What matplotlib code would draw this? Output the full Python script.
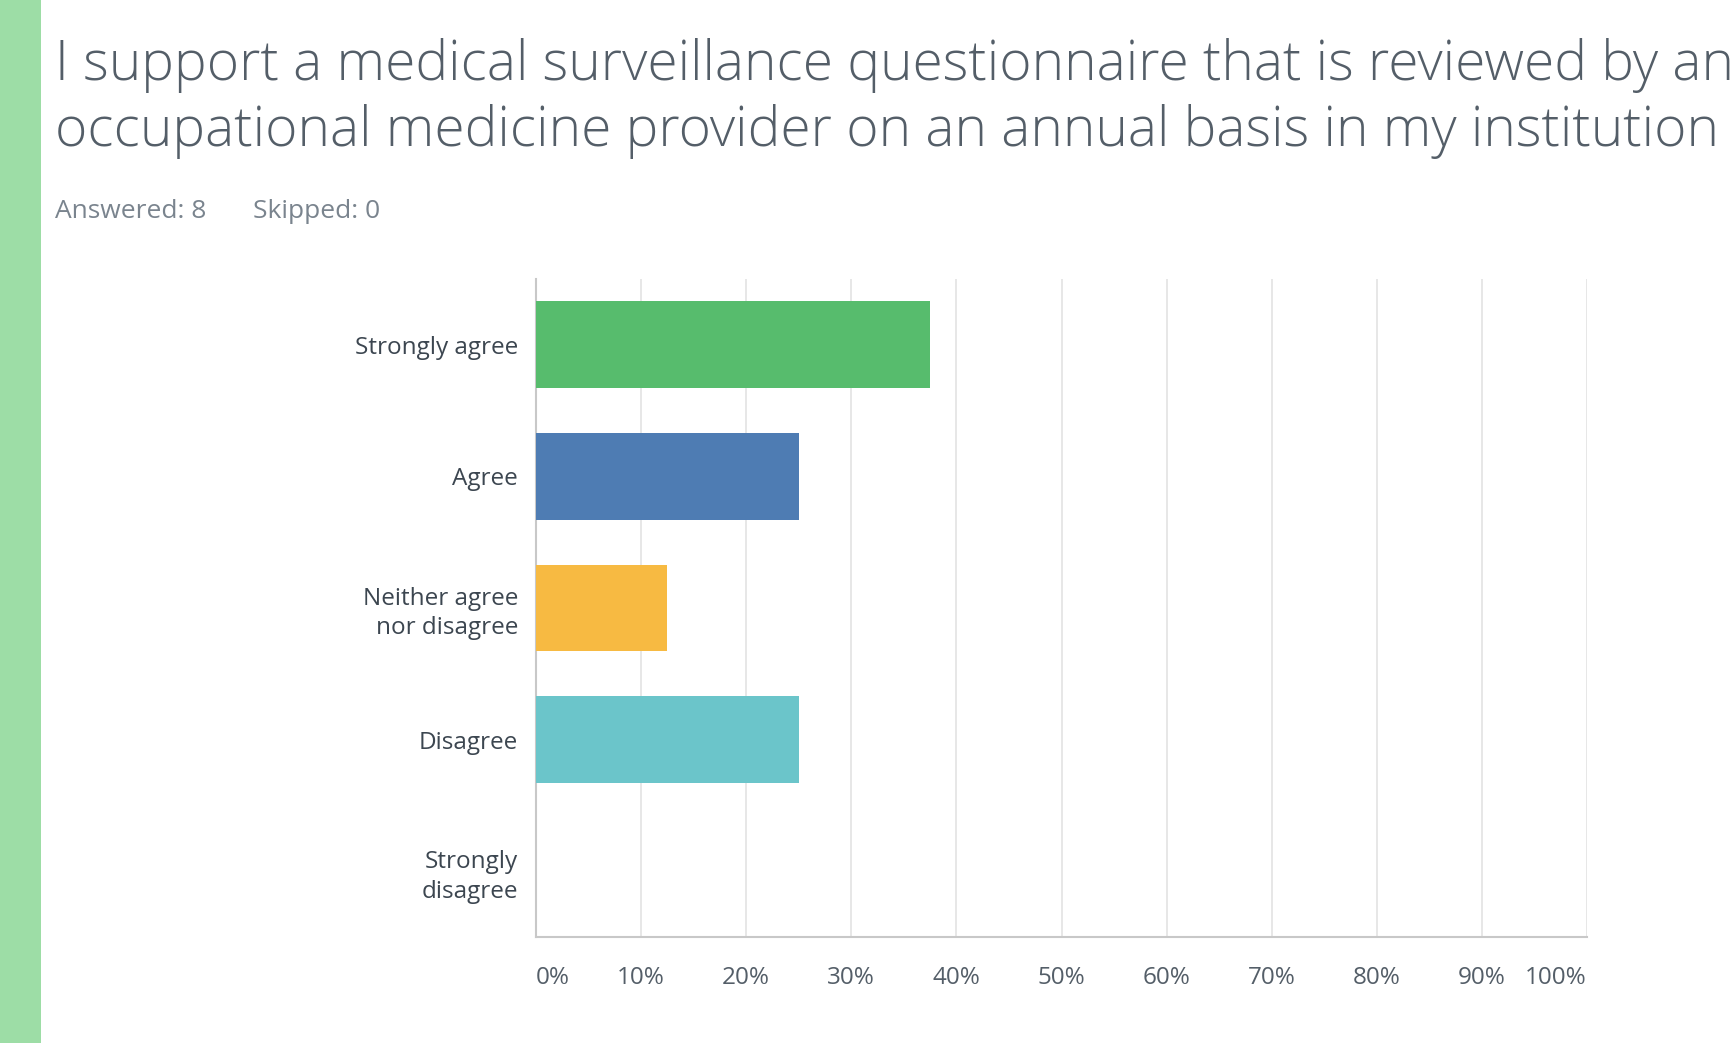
import matplotlib
matplotlib.use("Agg")
import matplotlib.pyplot as plt
from matplotlib.patches import Rectangle

categories = ["Strongly agree", "Agree", "Neither agree\nnor disagree", "Disagree", "Strongly\ndisagree"]
values = [37.5, 25.0, 12.5, 25.0, 0.0]
colors = ["#57bc6d", "#4e7cb3", "#f7ba42", "#6bc5ca", "#9c89c2"]
ticks = [0, 10, 20, 30, 40, 50, 60, 70, 80, 90, 100]
tick_labels = [f"{t}%" for t in ticks]
title_lines = ["I support a medical surveillance questionnaire that is reviewed by an",
               "occupational medicine provider on an annual basis in my institution"]
stats = ["Answered: 8", "Skipped: 0"]

W, H = 1736, 1043
fig = plt.figure(figsize=(W / 100, H / 100), dpi=100)
fig.patch.set_facecolor("white")

fig.add_artist(Rectangle((0, 0), 41 / W, 1, transform=fig.transFigure,
                         facecolor="#9ddda6", edgecolor="none"))

font = "Open Sans"
renderer = fig.canvas.get_renderer()

# title: scale so both lines fit inside the figure, close to measured width
t1 = fig.text(55 / W, 1 - 80 / H, title_lines[0], ha="left", va="baseline",
              fontsize=40, color="#545e68", family=font, fontweight="light")
t2 = fig.text(55 / W, 1 - 146 / H, title_lines[1], ha="left", va="baseline",
              fontsize=40, color="#545e68", family=font, fontweight="light")
w1 = t1.get_window_extent(renderer).width
w2 = t2.get_window_extent(renderer).width
fs = min(40 * 1663 / w2, 40 * 1672 / w1)
t1.set_fontsize(fs)
t2.set_fontsize(fs)

fig.text(55 / W, 1 - 218 / H, stats[0], ha="left", va="baseline", fontsize=19,
         color="#7a848e", family=font)
fig.text(253 / W, 1 - 218 / H, stats[1], ha="left", va="baseline", fontsize=19,
         color="#7a848e", family=font)

left, right, top, bottom = 536, 1587, 279, 937
ax = fig.add_axes([left / W, 1 - bottom / H, (right - left) / W, (bottom - top) / H])
ypos = list(range(len(categories)))
ax.barh(ypos, values, height=0.66, color=colors, zorder=3)
ax.set_ylim(len(categories) - 0.5, -0.5)
ax.set_xlim(0, 100)
ax.set_xticks(ticks)
ax.set_xticklabels(tick_labels)
for i, lab in enumerate(ax.get_xticklabels()):
    if i == 0:
        lab.set_ha("left")
    elif i == len(ticks) - 1:
        lab.set_ha("right")
ax.set_yticks(ypos)
ax.set_yticklabels(categories)
ax.tick_params(axis="x", length=0, pad=21, labelsize=17.5, labelcolor="#545e68")
ax.tick_params(axis="y", length=0, pad=13, labelsize=17.5, labelcolor="#3c4650")
for lab in ax.get_xticklabels() + ax.get_yticklabels():
    lab.set_family(font)
for lab in ax.get_yticklabels():
    lab.set_ha("right")
    lab.set_multialignment("right")
    lab.set_linespacing(1.3)
ax.grid(axis="x", color="#e3e3e3", linewidth=1.2, zorder=0)
ax.grid(axis="y", visible=False)
for s in ["top", "right"]:
    ax.spines[s].set_visible(False)
ax.spines["left"].set_color("#c8c8c8")
ax.spines["left"].set_linewidth(1.5)
ax.spines["bottom"].set_color("#c8c8c8")
ax.spines["bottom"].set_linewidth(1.5)
ax.set_facecolor("white")

fig.savefig("out.png", dpi=100, facecolor="white")
